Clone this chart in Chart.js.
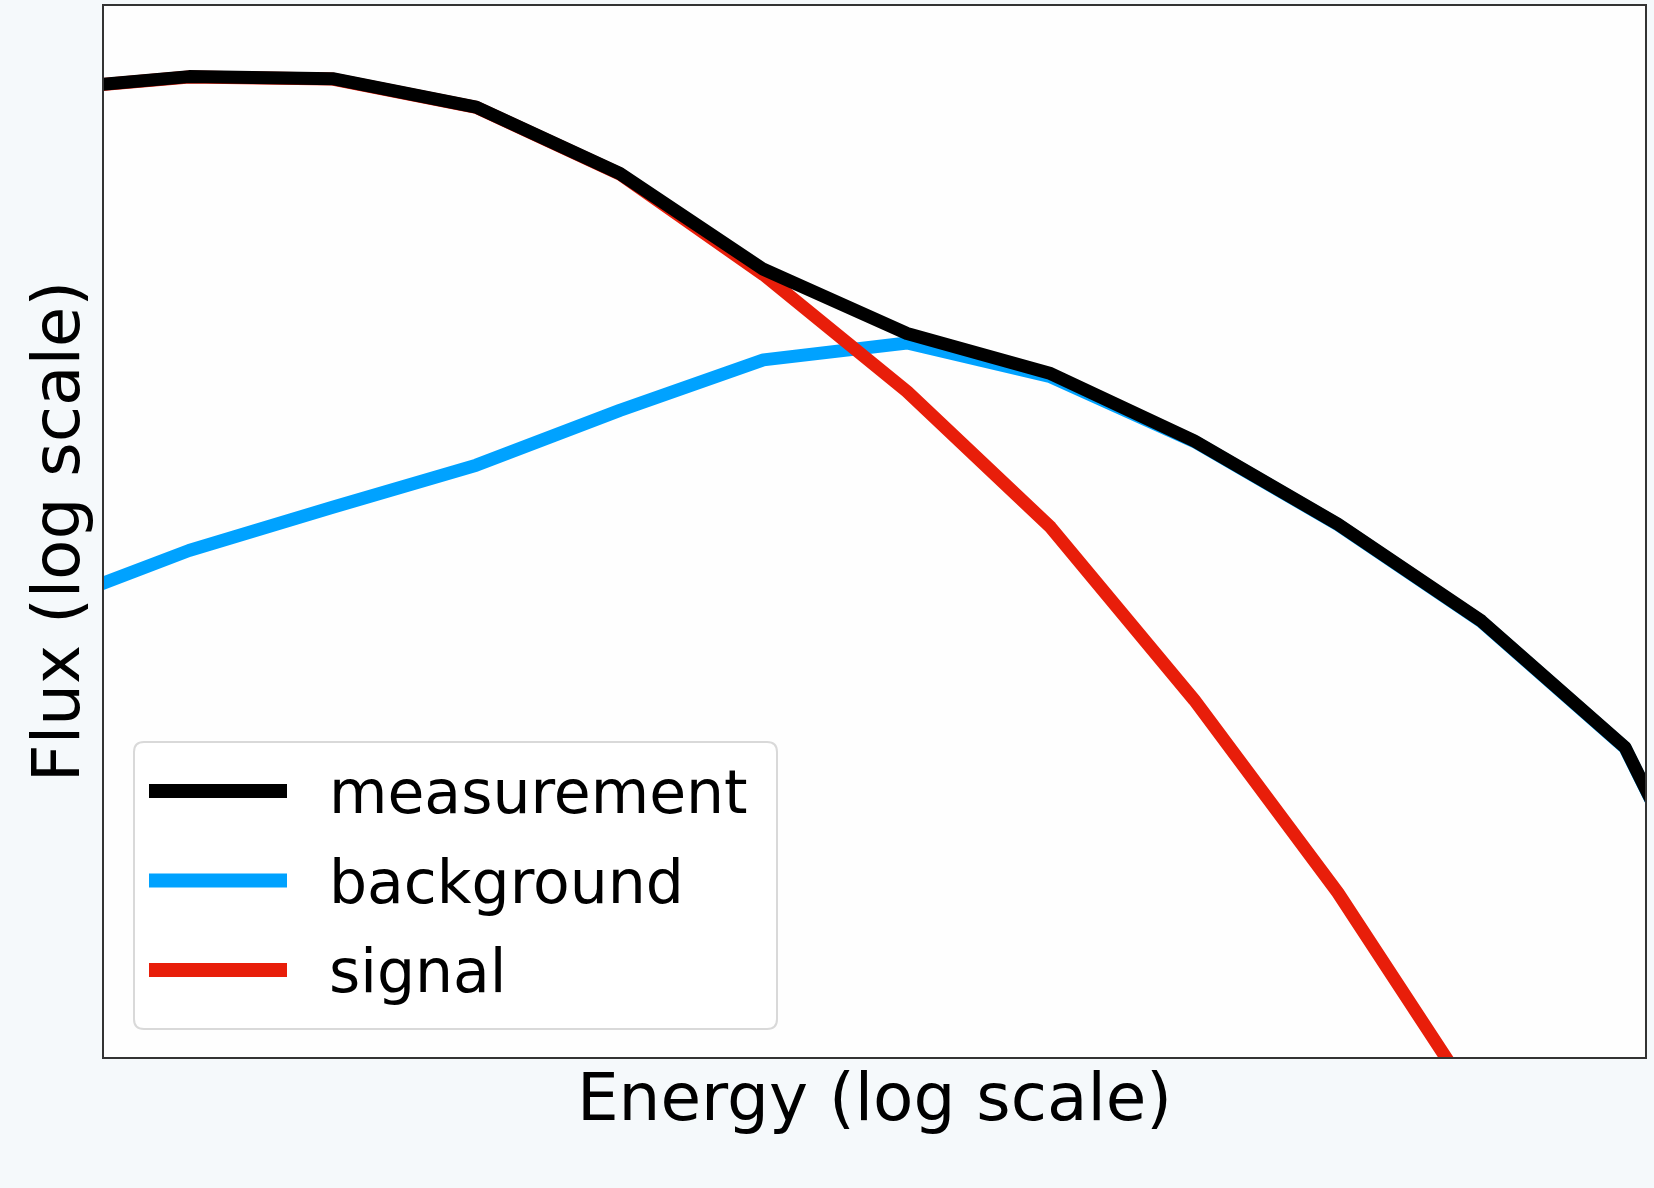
<!DOCTYPE html>
<html>
<head>
<meta charset="utf-8">
<script src="https://cdn.jsdelivr.net/npm/chart.js@4/dist/chart.umd.min.js"></script>
<style>
  html, body { margin: 0; padding: 0; background: #f5f9fb; }
  #wrap { width: 1654px; height: 1188px; position: relative; }
</style>
</head>
<body>
<div id="wrap"><canvas id="c"></canvas></div>
<script>
// Energy bin positions (log-energy, arbitrary units)
const energyBins = [0, 1, 2, 3, 4, 5, 6, 7, 8, 9, 10, 11, 12];
// Flux values in decades (log10 flux, arbitrary units)
const measurement = [9.20, 9.32, 9.30, 9.03, 8.40, 7.49, 6.88, 6.50, 5.86, 5.07, 4.15, 2.95, 0.20];
const background  = [4.30, 4.82, 5.23, 5.63, 6.15, 6.63, 6.79, 6.47, 5.855, 5.065, 4.145, 2.945, 0.195];
const signal      = [9.197, 9.317, 9.297, 9.027, 8.395, 7.44, 6.33, 5.04, 3.40, 1.57, -0.51, null, null];
const seriesNames = ['measurement', 'background', 'signal'];
const xTitle = 'Energy (log scale)';
const yTitle = 'Flux (log scale)';

const COLORS = ['#000000', '#00a2ff', '#e81e0a'];
const FONT = "'DejaVu Sans', 'Liberation Sans', sans-serif";

function pts(vals) {
  return energyBins.map((x, i) => ({ x: x, y: vals[i] }));
}

const bgPlugin = {
  id: 'bgPlugin',
  beforeDraw(chart) {
    const { ctx, chartArea: a } = chart;
    ctx.save();
    ctx.fillStyle = '#f5f9fb';
    ctx.fillRect(0, 0, chart.width, chart.height);
    ctx.fillStyle = '#fefefe';
    ctx.fillRect(a.left, a.top, a.right - a.left, a.bottom - a.top);
    ctx.restore();
  },
  afterDatasetsDraw(chart) {
    const { ctx, chartArea: a } = chart;
    ctx.save();
    // legend box
    const lx = a.left + 31, ly = a.bottom - 316, lw = 643, lh = 287, r = 10;
    ctx.beginPath();
    ctx.moveTo(lx + r, ly);
    ctx.lineTo(lx + lw - r, ly);
    ctx.quadraticCurveTo(lx + lw, ly, lx + lw, ly + r);
    ctx.lineTo(lx + lw, ly + lh - r);
    ctx.quadraticCurveTo(lx + lw, ly + lh, lx + lw - r, ly + lh);
    ctx.lineTo(lx + r, ly + lh);
    ctx.quadraticCurveTo(lx, ly + lh, lx, ly + lh - r);
    ctx.lineTo(lx, ly + r);
    ctx.quadraticCurveTo(lx, ly, lx + r, ly);
    ctx.closePath();
    ctx.fillStyle = 'rgba(255,255,255,0.85)';
    ctx.fill();
    ctx.lineWidth = 2;
    ctx.strokeStyle = '#d9d9d9';
    ctx.stroke();
    chart.data.datasets.forEach((ds, i) => {
      const cy = ly + 49 + i * 89.5;
      ctx.fillStyle = ds.borderColor;
      ctx.fillRect(lx + 15, cy - 7, 138, 14);
      ctx.fillStyle = '#000';
      ctx.font = '60px ' + FONT;
      ctx.textBaseline = 'alphabetic';
      ctx.textAlign = 'left';
      ctx.fillText(ds.label, lx + 195, cy + 22);
    });
    // frame
    ctx.lineWidth = 2;
    ctx.strokeStyle = '#333333';
    ctx.strokeRect(a.left, a.top, a.right - a.left, a.bottom - a.top);
    ctx.restore();
  }
};

const datasets = [measurement, background, signal].map((vals, i) => ({
  label: seriesNames[i],
  data: pts(vals),
  borderColor: COLORS[i],
  backgroundColor: COLORS[i],
  borderWidth: 13,
  pointRadius: 0,
  tension: 0,
  borderJoinStyle: 'round',
  fill: false,
  clip: 0,
  spanGaps: false,
  order: [0, 2, 1][i]
}));

new Chart(document.getElementById('c'), {
  type: 'line',
  data: { datasets: datasets },
  options: {
    responsive: true,
    maintainAspectRatio: false,
    animation: false,
    events: [],
    layout: { padding: { top: 5, right: 8, left: 0, bottom: 0 } },
    plugins: {
      legend: { display: false },
      tooltip: { enabled: false }
    },
    scales: {
      x: {
        type: 'linear',
        min: 0.401,
        max: 11.146,
        grid: { display: false },
        border: { display: false },
        ticks: { display: false },
        title: {
          display: true,
          text: xTitle,
          color: '#000',
          font: { size: 66, family: FONT },
          padding: { top: 0, bottom: 46 }
        },
        afterFit(scale) { scale.height = 130; }
      },
      y: {
        type: 'linear',
        min: 0,
        max: 10,
        grid: { display: false },
        border: { display: false },
        ticks: { display: false },
        title: {
          display: true,
          text: yTitle,
          color: '#000',
          font: { size: 66, family: FONT },
          padding: { top: 22, bottom: 0 }
        },
        afterFit(scale) { scale.width = 103; }
      }
    }
  },
  plugins: [bgPlugin]
});
</script>
</body>
</html>
